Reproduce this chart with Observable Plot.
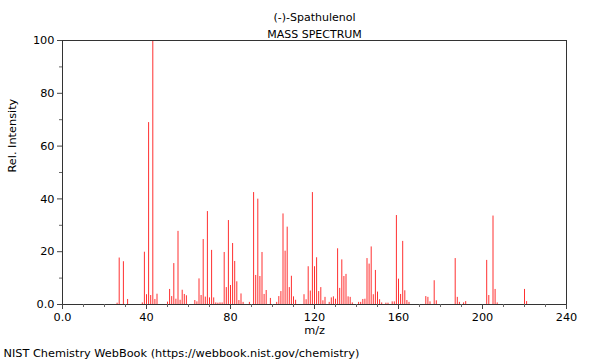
<!DOCTYPE html>
<html>
<head>
<meta charset="utf-8">
<script src="https://cdn.jsdelivr.net/npm/d3@7"></script>
<script src="https://cdn.jsdelivr.net/npm/@observablehq/plot@0.6"></script>
<style>
  html, body { margin: 0; padding: 0; background: #fff; }
  #chart svg { display: block; }
</style>
</head>
<body>
<div id="chart"></div>
<script>
const title = "(-)-Spathulenol";
const subtitle = "MASS SPECTRUM";
const caption = "NIST Chemistry WebBook (https://webbook.nist.gov/chemistry)";
const xLabel = "m/z";
const yLabel = "Rel. Intensity";

const mz = [26,27,29,31,38,39,40,41,42,43,44,45,50,51,52,53,54,55,56,57,58,59,63,64,65,66,67,68,69,70,71,72,73,74,75,76,77,78,79,80,81,82,83,84,85,86,89,91,92,93,94,95,96,97,99,102,103,104,105,106,107,108,109,110,111,115,116,117,118,119,120,121,122,123,124,125,127,128,129,130,131,132,133,134,135,136,137,138,141,142,143,144,145,146,147,148,149,150,151,152,154,155,157,158,159,160,161,162,163,164,165,173,174,175,177,178,187,188,189,191,192,202,203,205,206,207,220,221];
const intensity = [0.5,17.6,16.2,1.9,0.6,19.8,3.7,68.9,3.4,100,1.9,3.9,0.9,5.7,3.0,15.5,2.0,27.7,1.6,5.4,3.8,3.3,1.5,1.0,9.7,3.4,24.6,2.8,35.2,2.5,20.5,2.5,0.6,0.5,0.6,0.6,19.7,6.4,31.8,7.2,23.1,16.3,8.6,1.5,4.0,0.8,0.8,42.4,11.0,39.9,10.6,19.7,3.8,5.3,2.3,0.8,3.0,4.9,34.3,20.2,29.3,6.4,10.7,2.9,1.6,3.7,1.8,14.3,5.1,42.4,14.3,17.7,4.9,6.4,1.4,2.7,0.8,2.5,2.9,2.0,21.1,6.1,16.9,10.6,11.4,2.9,2.7,0.6,0.8,0.8,1.9,2.0,17.4,15.3,21.8,3.7,12.9,4.7,1.8,0.6,0.5,0.5,1.0,1.0,33.7,9.6,3.8,23.9,5.2,1.5,0.8,3.0,2.7,1.0,9.0,1.4,17.4,2.7,0.8,0.6,1.1,16.7,3.4,33.5,5.7,0.6,5.7,1.1];

const xMajor = [0,40,80,120,160,200,240];
const xMinor = [10,20,30,50,60,70,90,100,110,130,140,150,170,180,190,210,220,230];
const yMajor = [0,20,40,60,80,100];
const yMinor = [10,30,50,70,90];

const peaks = mz.map((m, i) => ({mz: m, intensity: intensity[i]}));
const fmt = d => d === 0 ? "0.0" : String(d);

const chart = Plot.plot({
  width: 600,
  height: 360,
  marginLeft: 62,
  marginRight: 34,
  marginTop: 40,
  marginBottom: 56,
  style: {fontFamily: "DejaVu Sans", fontSize: "11px", color: "#000", background: "#fff"},
  x: {domain: [0, 240]},
  y: {domain: [0, 100]},
  marks: [
    Plot.ruleX(peaks, {x: "mz", y1: 0, y2: "intensity", stroke: "#ff3030", strokeWidth: 1}),
    Plot.frame({stroke: "#333"}),
    Plot.axisX(xMajor, {tickSize: 5, tickFormat: fmt, label: null, stroke: "#444", tickPadding: 3, fontSize: 11.3}),
    Plot.axisX(xMinor, {tickSize: 3, tickFormat: () => "", label: null, stroke: "#666"}),
    Plot.axisY(yMajor, {tickSize: 5, tickFormat: fmt, label: null, stroke: "#444", tickPadding: 3, fontSize: 11.3}),
    Plot.axisY(yMinor, {tickSize: 3, tickFormat: () => "", label: null, stroke: "#666"}),
    Plot.text([title], {frameAnchor: "top", dy: -27, fontSize: 11}),
    Plot.text([subtitle], {frameAnchor: "top", dy: -10, fontSize: 11}),
    Plot.text([xLabel], {frameAnchor: "bottom", dy: 29, fontSize: 11.3}),
    Plot.text([yLabel], {frameAnchor: "left", dx: -50, rotate: -90, fontSize: 11.3}),
    Plot.text([caption], {frameAnchor: "bottom-left", dx: -59, dy: 52, textAnchor: "start", fontSize: 11.3})
  ]
});
document.getElementById("chart").appendChild(chart);
</script>
</body>
</html>
